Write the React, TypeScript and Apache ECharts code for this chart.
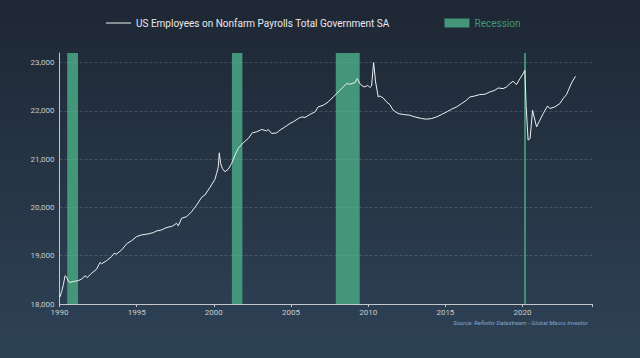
import React, { useEffect, useRef } from "react";
import * as echarts from "echarts";

// Decimal year positions and values (thousands)
const years = [
  1990.03, 1990.14, 1990.25, 1990.36, 1990.47, 1990.57, 1990.68, 1990.9, 1991.18, 1991.44,
  1991.65, 1991.8, 1992.09, 1992.41, 1992.62, 1992.73, 1993.06, 1993.38, 1993.55, 1993.7,
  1994.03, 1994.35, 1994.68, 1995.0, 1995.32, 1995.75, 1996.08, 1996.3, 1996.62, 1996.83,
  1997.16, 1997.27, 1997.59, 1997.7, 1997.91, 1998.24, 1998.56, 1998.89, 1999.21, 1999.42,
  1999.75, 2000.07, 2000.18, 2000.29, 2000.35, 2000.44, 2000.55, 2000.72, 2000.93, 2001.15,
  2001.37, 2001.58, 2001.9, 2002.23, 2002.49, 2002.77, 2003.1, 2003.42, 2003.52, 2003.74,
  2004.07, 2004.28, 2004.61, 2004.93, 2005.14, 2005.47, 2005.69, 2005.9, 2006.22, 2006.55,
  2006.76, 2007.09, 2007.41, 2007.73, 2008.06, 2008.38, 2008.6, 2008.81, 2009.14, 2009.29,
  2009.46, 2009.61, 2009.79, 2009.96, 2010.11, 2010.22, 2010.35, 2010.48, 2010.65, 2010.76,
  2010.97, 2011.19, 2011.4, 2011.62, 2011.94, 2012.27, 2012.7, 2013.02, 2013.46, 2013.78,
  2014.11, 2014.43, 2014.75, 2015.08, 2015.4, 2015.73, 2016.05, 2016.37, 2016.59, 2016.91,
  2017.23, 2017.56, 2017.88, 2018.21, 2018.42, 2018.74, 2018.96, 2019.18, 2019.39, 2019.61,
  2019.83, 2020.04, 2020.15, 2020.23, 2020.36, 2020.49, 2020.65, 2020.75, 2020.91, 2021.12,
  2021.34, 2021.62, 2021.77, 2022.09, 2022.42, 2022.63, 2022.85, 2023.06, 2023.21, 2023.43,
];
const values = [
  18145, 18260, 18400, 18585, 18557, 18467, 18446, 18467, 18481, 18517,
  18585, 18550, 18640, 18723, 18860, 18833, 18900, 18983, 19053, 19033,
  19122, 19246, 19314, 19397, 19432, 19452, 19479, 19514, 19535, 19570,
  19603, 19603, 19673, 19618, 19777, 19810, 19913, 20052, 20211, 20258,
  20417, 20583, 20707, 20843, 21132, 20913, 20810, 20740, 20790, 20913,
  21085, 21223, 21339, 21430, 21545, 21566, 21616, 21587, 21616, 21533,
  21545, 21601, 21669, 21740, 21773, 21843, 21876, 21864, 21926, 21979,
  22083, 22118, 22186, 22289, 22393, 22496, 22566, 22552, 22587, 22669,
  22566, 22517, 22496, 22531, 22483, 22517, 23000, 22600, 22289, 22310,
  22269, 22186, 22132, 22014, 21946, 21926, 21911, 21876, 21843, 21829,
  21843, 21876, 21926, 21979, 22035, 22083, 22153, 22221, 22289, 22310,
  22339, 22345, 22393, 22428, 22475, 22463, 22496, 22566, 22614, 22545,
  22669, 22773, 22841, 22118, 21395, 21430, 22014, 21876, 21669, 21808,
  21946, 22103, 22050, 22083, 22153, 22256, 22339, 22496, 22600, 22717,
];

const recessionStarts = [1990.5, 2001.17, 2007.9, 2020.1];
const recessionEnds = [1991.2, 2001.85, 2009.45, 2020.22];

const yGridTicks = [19000, 20000, 21000, 22000, 23000];

const seriesName = "US Employees on Nonfarm Payrolls Total Government SA";
const recessionName = "Recession";
const sourceText = "Source: Refinitiv Datastream - Global Macro Investor";

export default function App() {
  const ref = useRef<HTMLDivElement>(null);

  useEffect(() => {
    if (!ref.current) return;
    const chart = echarts.init(ref.current, undefined, { renderer: "svg" });
    const green = "#43967a";
    const font = "Roboto";
    chart.setOption({
      animation: false,
      backgroundColor: {
        type: "linear",
        x: 0,
        y: 0,
        x2: 0,
        y2: 1,
        colorStops: [
          { offset: 0, color: "#1e2734" },
          { offset: 1, color: "#2e4256" },
        ],
      },
      grid: { left: 59.5, right: 48, top: 53, bottom: 54 },
      legend: {
        left: 101,
        top: 13,
        itemWidth: 25,
        itemHeight: 9,
        itemGap: 55,
        textStyle: { color: "#e8eaee", fontSize: 10, fontFamily: font },
        data: [
          { name: seriesName, icon: "path://M0,0H25V1H0Z" },
          { name: recessionName, icon: "rect", textStyle: { color: green } },
        ],
      },
      xAxis: {
        type: "value",
        min: 1990,
        max: 2024.5,
        interval: 5,
        axisLine: { lineStyle: { color: "#c4c8cc", width: 1 } },
        axisTick: { show: true, length: 3, lineStyle: { color: "#c4c8cc" } },
        axisLabel: {
          color: "#c8ccd0",
          fontSize: 8,
          fontFamily: font,
          margin: 4,
          formatter: (v: number) => (Math.abs(v % 5) < 1e-6 ? String(v) : ""),
        },
        splitLine: { show: false },
      },
      yAxis: {
        type: "value",
        min: 18000,
        max: 23200,
        interval: 1000,
        axisLine: { show: true, lineStyle: { color: "#c4c8cc", width: 1 } },
        axisTick: { show: false },
        axisLabel: {
          color: "#c8ccd0",
          fontSize: 8,
          fontFamily: font,
          margin: 5,
          showMaxLabel: false,
        },
        splitLine: { show: false },
      },
      series: [
        {
          name: "grid",
          type: "line",
          data: [],
          z: 1,
          silent: true,
          markLine: {
            silent: true,
            symbol: "none",
            label: { show: false },
            lineStyle: { color: "rgba(160,170,180,0.25)", type: [3, 2], width: 1 },
            data: yGridTicks.map((v) => ({ yAxis: v })),
          },
        },
        {
          name: recessionName,
          type: "line",
          data: [],
          z: 2,
          itemStyle: { color: green },
          lineStyle: { color: green },
          markArea: {
            silent: true,
            itemStyle: { color: green, opacity: 1 },
            data: recessionStarts.map((s, i) => [
              { xAxis: s },
              { xAxis: recessionEnds[i] },
            ]),
          },
        },
        {
          name: seriesName,
          type: "line",
          z: 3,
          symbol: "none",
          showSymbol: false,
          color: "#eef0f2",
          itemStyle: { color: "#eef0f2" },
          lineStyle: { color: "#eef0f2", width: 1 },
          data: years.map((y, i) => [y, values[i]]),
        },
      ],
      graphic: [
        {
          type: "text",
          right: 52,
          top: 319,
          style: {
            text: sourceText,
            fill: "#86a9cf",
            fontSize: 6,
            fontStyle: "italic",
            fontFamily: font,
          },
        },
      ],
    });
    return () => chart.dispose();
  }, []);

  return (
    <div
      ref={ref}
      style={{ position: "fixed", left: 0, top: 0, width: 640, height: 358 }}
    />
  );
}
